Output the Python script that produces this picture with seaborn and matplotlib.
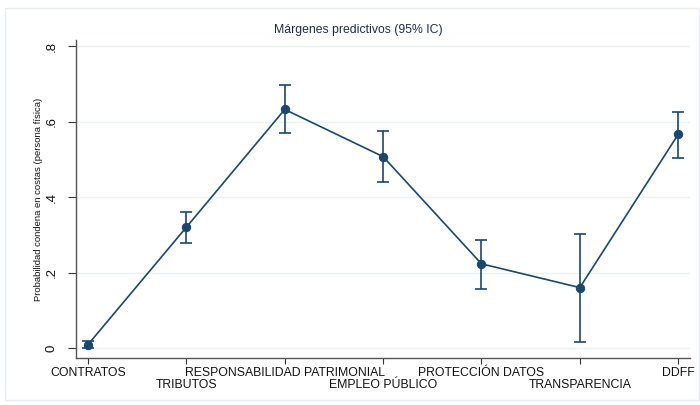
import matplotlib
matplotlib.use("Agg")
import matplotlib.pyplot as plt
import seaborn as sns
import pandas as pd
from matplotlib.patches import Rectangle

categories = ["CONTRATOS", "TRIBUTOS", "RESPONSABILIDAD PATRIMONIAL", "EMPLEO PÚBLICO",
              "PROTECCIÓN DATOS", "TRANSPARENCIA", "DDFF"]
margin = [0.009, 0.320, 0.632, 0.507, 0.223, 0.160, 0.566]
ci_low = [-0.001, 0.279, 0.569, 0.439, 0.157, 0.015, 0.504]
ci_high = [0.019, 0.359, 0.697, 0.574, 0.287, 0.302, 0.626]
yticks = [0, 0.2, 0.4, 0.6, 0.8]
ytick_labels = ["0", ".2", ".4", ".6", ".8"]

sns.set_theme(style="white")
plt.rcParams['font.family'] = ['Liberation Sans', 'DejaVu Sans']

color = "#1a476f"
df = pd.DataFrame({"x": range(len(categories)), "y": margin})

fig = plt.figure(figsize=(7, 4.05), dpi=100)
fig.patch.set_facecolor("white")
fig.patches.append(Rectangle((5/700, 5/405), 694/700, 392/405, transform=fig.transFigure,
                             fill=False, edgecolor="#e4eef2", lw=1.0))
ax = fig.add_axes([76/700, 1-358/405, (690-76)/700, (358-40)/405])

for v in yticks:
    ax.axhline(v, color="#eaf2f3", lw=1.0, zorder=0)

yerr = [[m - l for m, l in zip(margin, ci_low)], [h - m for m, h in zip(margin, ci_high)]]
ax.errorbar(df["x"], df["y"], yerr=yerr, fmt="none", ecolor=color, elinewidth=1.2,
            capsize=4.5, capthick=1.2, zorder=2)
sns.lineplot(data=df, x="x", y="y", ax=ax, color=color, lw=1.2, marker="o",
             markersize=6, markeredgecolor=color, zorder=3)

ax.set_xlim(-0.122, 6.12)
ax.set_ylim(-0.0265, 0.816)
ax.set_xticks(range(len(categories)))
ax.set_xticklabels(categories, fontsize=8.8, color="#111111")
ax.set_yticks(yticks)
ax.set_yticklabels(ytick_labels, rotation=90, va="center", fontsize=9.5, color="#111111")
ax.tick_params(axis="x", direction="out", length=4, width=0.8, color="#333333",
               bottom=True, pad=2.5)
ax.tick_params(axis="y", direction="out", length=5.8, width=0.8, color="#333333",
               left=True, pad=7.2)
for i, t in enumerate(ax.xaxis.get_major_ticks()):
    t.set_pad(2.5 if i % 2 == 0 else 11.2)
for s in ["top", "right"]:
    ax.spines[s].set_visible(False)
for s in ["left", "bottom"]:
    ax.spines[s].set_color("#555555")
    ax.spines[s].set_linewidth(1.0)

ax.set_xlabel("")
ax.set_ylabel("Probabilidad condena en costas (persona física)", fontsize=6.8,
              color="#111111", labelpad=2.4)
fig.text(358/700, 1-30/405, "Márgenes predictivos (95% IC)", ha="center", va="center",
         fontsize=8.8, color="#1e2c4a")

fig.savefig("out.png", dpi=100)
